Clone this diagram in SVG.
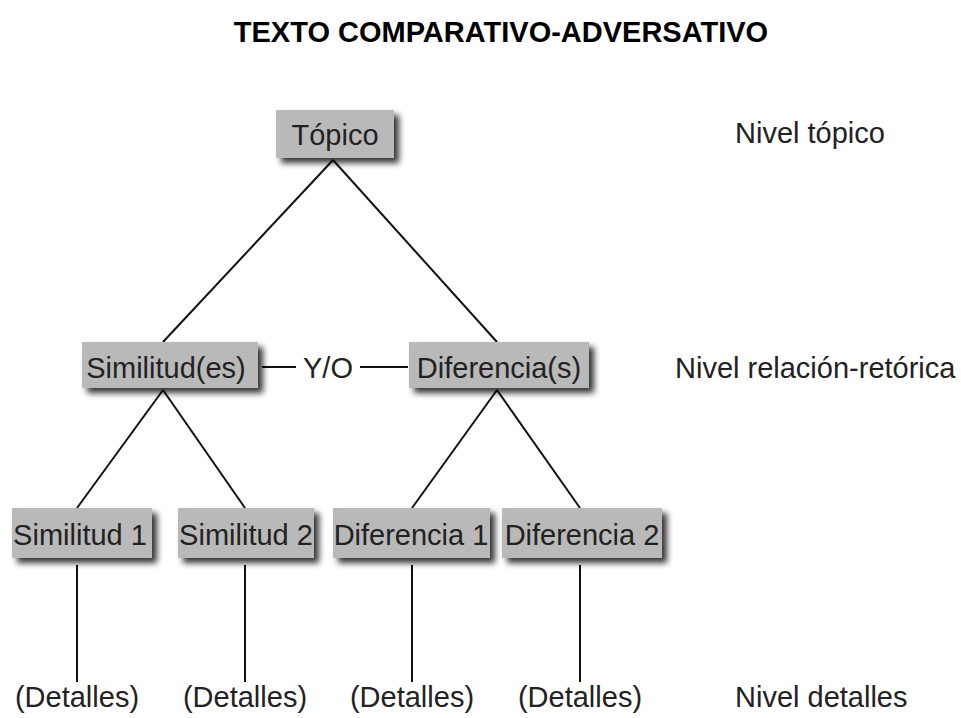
<svg xmlns="http://www.w3.org/2000/svg" width="961" height="718" viewBox="0 0 961 718">
<defs>
<filter id="sh" x="-20%" y="-30%" width="150%" height="180%">
<feGaussianBlur in="SourceAlpha" stdDeviation="3"/>
<feOffset dx="5" dy="5" result="b"/>
<feComponentTransfer><feFuncA type="linear" slope="0.8"/></feComponentTransfer>
<feMerge><feMergeNode/><feMergeNode in="SourceGraphic"/></feMerge>
</filter>
</defs>
<style>
text{font-family:"Liberation Sans",Arial,sans-serif;fill:#222}
.box{fill:#b9b9b9;filter:url(#sh)}
.bt{font-size:29px;text-anchor:middle}
.lab{font-size:29px}
.c line{stroke:#111;stroke-width:2}
</style>
<rect width="961" height="718" fill="#fff"/>
<text x="501" y="42" font-size="29" font-weight="bold" text-anchor="middle" style="fill:#000">TEXTO COMPARATIVO-ADVERSATIVO</text>
<g class="c" id="connectors">
<line x1="333" y1="160" x2="163" y2="342"/>
<line x1="333" y1="160" x2="497" y2="342"/>
<line x1="163" y1="390" x2="77" y2="508"/>
<line x1="163" y1="390" x2="245" y2="508"/>
<line x1="497" y1="390" x2="412" y2="508"/>
<line x1="497" y1="390" x2="580" y2="508"/>
<line x1="77" y1="565" x2="77" y2="682"/>
<line x1="245" y1="565" x2="245" y2="682"/>
<line x1="412" y1="565" x2="412" y2="682"/>
<line x1="580" y1="565" x2="580" y2="682"/>
<line x1="262" y1="367" x2="296" y2="367"/>
<line x1="360" y1="367" x2="408" y2="367"/>
</g>
<g id="topico"><rect class="box" x="276" y="110" width="118" height="48"/><text class="bt" x="335" y="145">Tópico</text></g>
<g id="similitudes"><rect class="box" x="82" y="342" width="176" height="46"/><text class="bt" x="166" y="378">Similitud(es)</text></g>
<g id="yo"><text class="bt" x="328" y="378">Y/O</text></g>
<g id="diferencias"><rect class="box" x="409" y="342" width="180" height="46"/><text class="bt" x="499" y="378">Diferencia(s)</text></g>
<g id="sim1"><rect class="box" x="12" y="508" width="140" height="50"/><text class="bt" x="80" y="545">Similitud 1</text></g>
<g id="sim2"><rect class="box" x="178" y="508" width="136" height="50"/><text class="bt" x="246" y="545">Similitud 2</text></g>
<g id="dif1"><rect class="box" x="333" y="508" width="157" height="50"/><text class="bt" x="411" y="545">Diferencia 1</text></g>
<g id="dif2"><rect class="box" x="502" y="508" width="160" height="50"/><text class="bt" x="582" y="545">Diferencia 2</text></g>
<g id="det1"><text class="bt" x="77" y="707">(Detalles)</text></g>
<g id="det2"><text class="bt" x="245" y="707">(Detalles)</text></g>
<g id="det3"><text class="bt" x="412" y="707">(Detalles)</text></g>
<g id="det4"><text class="bt" x="580" y="707">(Detalles)</text></g>
<text class="lab" x="735" y="143">Nivel tópico</text>
<text class="lab" x="675" y="378">Nivel relación-retórica</text>
<text class="lab" x="735" y="707">Nivel detalles</text>
</svg>
